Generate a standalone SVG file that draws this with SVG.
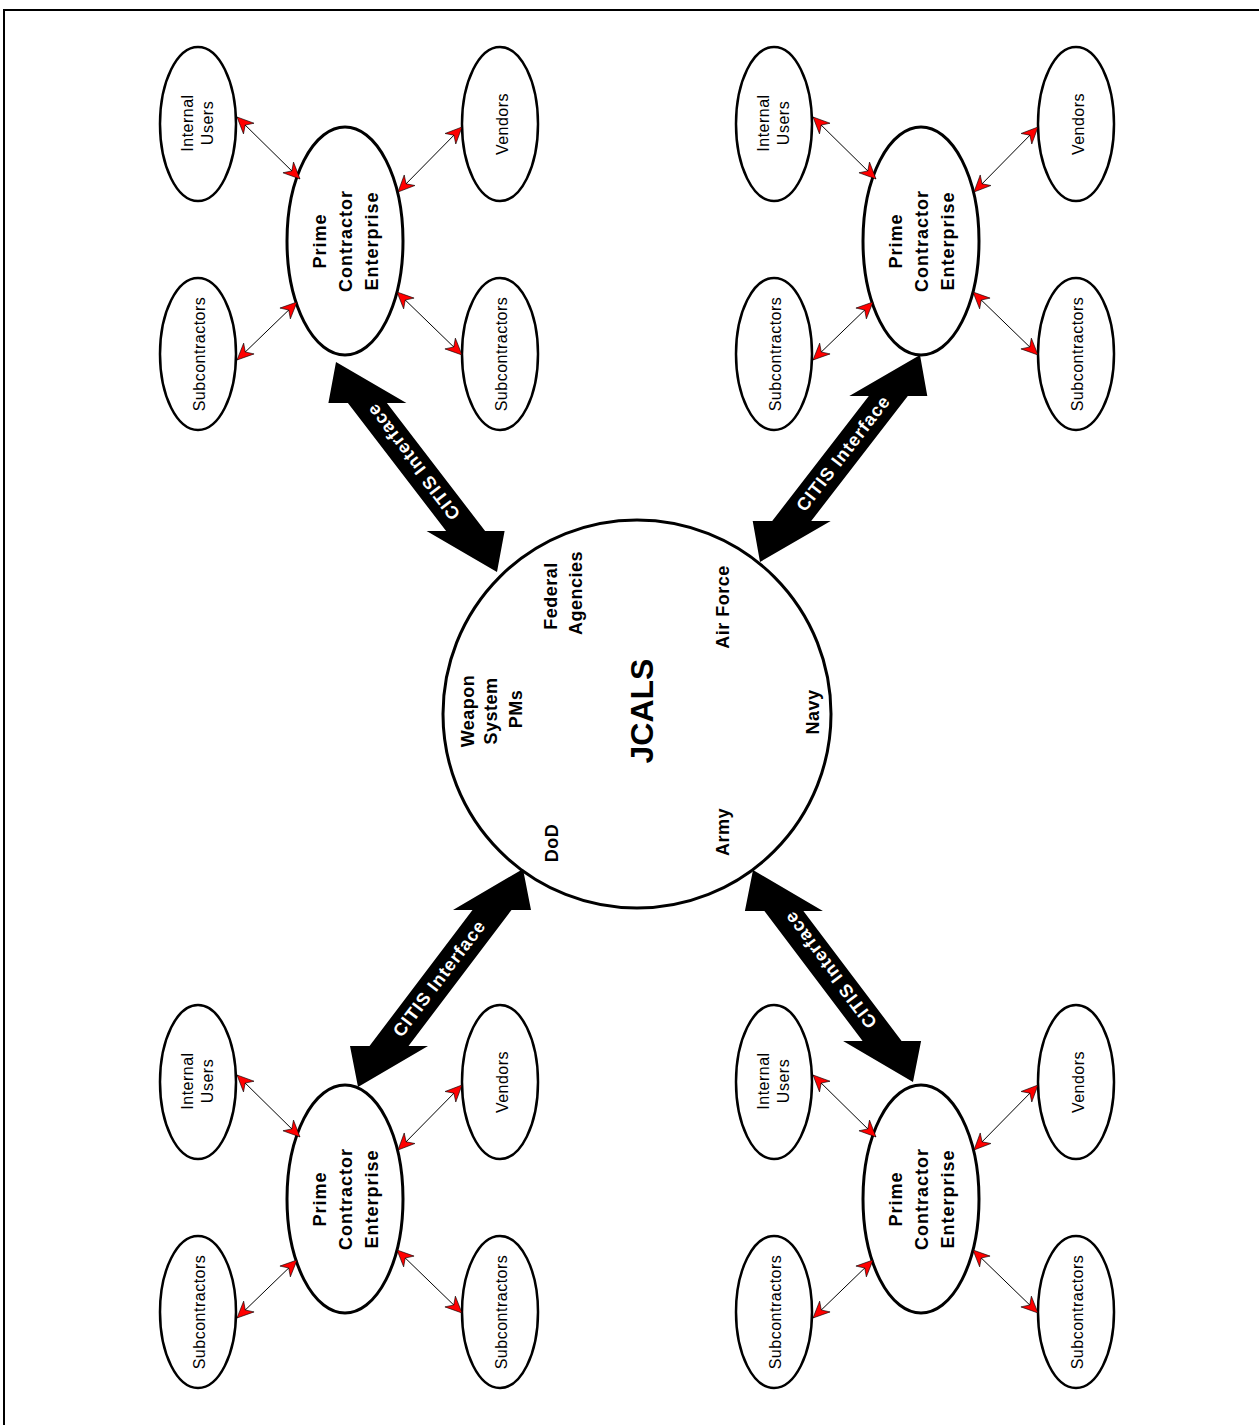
<svg xmlns="http://www.w3.org/2000/svg" width="1259" height="1425" viewBox="0 0 1259 1425">
  <style>
    .frame { fill: none; stroke: #000; stroke-width: 2; }
    .node ellipse, .node circle { fill: #fff; stroke: #000; }
    .small ellipse { stroke-width: 2.5; }
    .prime ellipse { stroke-width: 3; }
    .hub circle { stroke-width: 3; }
    text { font-family: "Liberation Sans", Arial, sans-serif; text-anchor: middle; fill: #000; }
    .lbl { font-size: 16px; letter-spacing: 0.5px; }
    .bold { font-size: 18px; font-weight: bold; letter-spacing: 1px; }
    .hubtxt { font-size: 18px; font-weight: bold; letter-spacing: 0.5px; }
    .title { font-size: 32px; font-weight: bold; }
    .link { stroke: #000; stroke-width: 1; fill: none; marker-start: url(#ah); marker-end: url(#ah); }
    .citis polygon { fill: #000; }
    .citis text { fill: #fff; font-size: 18px; font-weight: bold; letter-spacing: 1px; }
  </style>
  <defs>
    <marker id="ah" viewBox="-18 -9 19 18" refX="0" refY="0" markerWidth="19" markerHeight="18" markerUnits="userSpaceOnUse" orient="auto-start-reverse">
      <path d="M0,0 L-16.5,-7.5 L-11.5,0 L-16.5,7.5 Z" fill="#f00" stroke="#000" stroke-width="0.6"/>
    </marker>
  </defs>

  <rect width="1259" height="1425" fill="#fff"/>
  <path class="frame" d="M4,1425 V10 H1259"/>

  <!-- Central JCALS hub -->
  <g id="jcals" class="node hub">
    <circle cx="637" cy="714" r="194"/>
    <text class="title" transform="translate(653,711) rotate(-90)">JCALS</text>
    <text class="hubtxt" transform="translate(473.5,711) rotate(-90)">Weapon</text>
    <text class="hubtxt" transform="translate(497,711) rotate(-90)">System</text>
    <text class="hubtxt" transform="translate(521.5,709) rotate(-90)">PMs</text>
    <text class="hubtxt" transform="translate(556.5,596) rotate(-90)">Federal</text>
    <text class="hubtxt" transform="translate(582,593) rotate(-90)">Agencies</text>
    <text class="hubtxt" transform="translate(728.5,607) rotate(-90)">Air Force</text>
    <text class="hubtxt" transform="translate(557.5,843) rotate(-90)">DoD</text>
    <text class="hubtxt" transform="translate(728.5,832) rotate(-90)">Army</text>
    <text class="hubtxt" transform="translate(819,712) rotate(-90)">Navy</text>
  </g>

  <!-- Prime contractor clusters -->
  <g id="cluster-tl">
    <g id="tl-internal-users" class="node small">
      <ellipse cx="198" cy="124" rx="38" ry="77"/>
      <text class="lbl" transform="translate(192.5,123) rotate(-90)">Internal</text>
      <text class="lbl" transform="translate(213,123) rotate(-90)">Users</text>
    </g>
    <g id="tl-subcontractors-a" class="node small">
      <ellipse cx="198" cy="354" rx="38" ry="76"/>
      <text class="lbl" transform="translate(205,354) rotate(-90)">Subcontractors</text>
    </g>
    <g id="tl-prime" class="node prime">
      <ellipse cx="345" cy="241" rx="58" ry="114"/>
      <text class="bold" transform="translate(325.5,241) rotate(-90)">Prime</text>
      <text class="bold" transform="translate(351.5,241) rotate(-90)">Contractor</text>
      <text class="bold" transform="translate(377.5,241) rotate(-90)">Enterprise</text>
    </g>
    <g id="tl-vendors" class="node small">
      <ellipse cx="500" cy="124" rx="38" ry="77"/>
      <text class="lbl" transform="translate(507.5,124) rotate(-90)">Vendors</text>
    </g>
    <g id="tl-subcontractors-b" class="node small">
      <ellipse cx="500" cy="354" rx="38" ry="76"/>
      <text class="lbl" transform="translate(507,354) rotate(-90)">Subcontractors</text>
    </g>
  </g>

  <g id="cluster-tr" transform="translate(576,0)">
    <g id="tr-internal-users" class="node small">
      <ellipse cx="198" cy="124" rx="38" ry="77"/>
      <text class="lbl" transform="translate(192.5,123) rotate(-90)">Internal</text>
      <text class="lbl" transform="translate(213,123) rotate(-90)">Users</text>
    </g>
    <g id="tr-subcontractors-a" class="node small">
      <ellipse cx="198" cy="354" rx="38" ry="76"/>
      <text class="lbl" transform="translate(205,354) rotate(-90)">Subcontractors</text>
    </g>
    <g id="tr-prime" class="node prime">
      <ellipse cx="345" cy="241" rx="58" ry="114"/>
      <text class="bold" transform="translate(325.5,241) rotate(-90)">Prime</text>
      <text class="bold" transform="translate(351.5,241) rotate(-90)">Contractor</text>
      <text class="bold" transform="translate(377.5,241) rotate(-90)">Enterprise</text>
    </g>
    <g id="tr-vendors" class="node small">
      <ellipse cx="500" cy="124" rx="38" ry="77"/>
      <text class="lbl" transform="translate(507.5,124) rotate(-90)">Vendors</text>
    </g>
    <g id="tr-subcontractors-b" class="node small">
      <ellipse cx="500" cy="354" rx="38" ry="76"/>
      <text class="lbl" transform="translate(507,354) rotate(-90)">Subcontractors</text>
    </g>
  </g>

  <g id="cluster-bl" transform="translate(0,958)">
    <g id="bl-internal-users" class="node small">
      <ellipse cx="198" cy="124" rx="38" ry="77"/>
      <text class="lbl" transform="translate(192.5,123) rotate(-90)">Internal</text>
      <text class="lbl" transform="translate(213,123) rotate(-90)">Users</text>
    </g>
    <g id="bl-subcontractors-a" class="node small">
      <ellipse cx="198" cy="354" rx="38" ry="76"/>
      <text class="lbl" transform="translate(205,354) rotate(-90)">Subcontractors</text>
    </g>
    <g id="bl-prime" class="node prime">
      <ellipse cx="345" cy="241" rx="58" ry="114"/>
      <text class="bold" transform="translate(325.5,241) rotate(-90)">Prime</text>
      <text class="bold" transform="translate(351.5,241) rotate(-90)">Contractor</text>
      <text class="bold" transform="translate(377.5,241) rotate(-90)">Enterprise</text>
    </g>
    <g id="bl-vendors" class="node small">
      <ellipse cx="500" cy="124" rx="38" ry="77"/>
      <text class="lbl" transform="translate(507.5,124) rotate(-90)">Vendors</text>
    </g>
    <g id="bl-subcontractors-b" class="node small">
      <ellipse cx="500" cy="354" rx="38" ry="76"/>
      <text class="lbl" transform="translate(507,354) rotate(-90)">Subcontractors</text>
    </g>
  </g>

  <g id="cluster-br" transform="translate(576,958)">
    <g id="br-internal-users" class="node small">
      <ellipse cx="198" cy="124" rx="38" ry="77"/>
      <text class="lbl" transform="translate(192.5,123) rotate(-90)">Internal</text>
      <text class="lbl" transform="translate(213,123) rotate(-90)">Users</text>
    </g>
    <g id="br-subcontractors-a" class="node small">
      <ellipse cx="198" cy="354" rx="38" ry="76"/>
      <text class="lbl" transform="translate(205,354) rotate(-90)">Subcontractors</text>
    </g>
    <g id="br-prime" class="node prime">
      <ellipse cx="345" cy="241" rx="58" ry="114"/>
      <text class="bold" transform="translate(325.5,241) rotate(-90)">Prime</text>
      <text class="bold" transform="translate(351.5,241) rotate(-90)">Contractor</text>
      <text class="bold" transform="translate(377.5,241) rotate(-90)">Enterprise</text>
    </g>
    <g id="br-vendors" class="node small">
      <ellipse cx="500" cy="124" rx="38" ry="77"/>
      <text class="lbl" transform="translate(507.5,124) rotate(-90)">Vendors</text>
    </g>
    <g id="br-subcontractors-b" class="node small">
      <ellipse cx="500" cy="354" rx="38" ry="76"/>
      <text class="lbl" transform="translate(507,354) rotate(-90)">Subcontractors</text>
    </g>
  </g>

  <!-- Connectors: thin two-way links inside each cluster, thick CITIS links to the hub -->
  <g id="connectors">
    <g id="links-tl">
      <line class="link" x1="237" y1="117" x2="300" y2="179"/>
      <line class="link" x1="462" y1="127" x2="398" y2="192"/>
      <line class="link" x1="237" y1="360" x2="297" y2="302"/>
      <line class="link" x1="462" y1="355" x2="397" y2="292"/>
    </g>
    <g id="links-tr" transform="translate(576,0)">
      <line class="link" x1="237" y1="117" x2="300" y2="179"/>
      <line class="link" x1="462" y1="127" x2="398" y2="192"/>
      <line class="link" x1="237" y1="360" x2="297" y2="302"/>
      <line class="link" x1="462" y1="355" x2="397" y2="292"/>
    </g>
    <g id="links-bl" transform="translate(0,958)">
      <line class="link" x1="237" y1="117" x2="300" y2="179"/>
      <line class="link" x1="462" y1="127" x2="398" y2="192"/>
      <line class="link" x1="237" y1="360" x2="297" y2="302"/>
      <line class="link" x1="462" y1="355" x2="397" y2="292"/>
    </g>
    <g id="links-br" transform="translate(576,958)">
      <line class="link" x1="237" y1="117" x2="300" y2="179"/>
      <line class="link" x1="462" y1="127" x2="398" y2="192"/>
      <line class="link" x1="237" y1="360" x2="297" y2="302"/>
      <line class="link" x1="462" y1="355" x2="397" y2="292"/>
    </g>

    <g id="citis-tl" class="citis">
      <polygon points="336,362 406.4,403 386.9,403 485.1,531 504.6,531 497,572 426.6,531 446.1,531 347.9,403 328.4,403"/>
      <text transform="translate(413,462) rotate(-127.5)" dy="6.5">CITIS Interface</text>
    </g>
    <g id="citis-tr" class="citis">
      <polygon points="920,355 927.3,396 907.8,396 811.2,521 830.7,521 760,562 752.7,521 772.2,521 868.8,396 849.3,396"/>
      <text transform="translate(843,453) rotate(-52.3)" dy="6.5">CITIS Interface</text>
    </g>
    <g id="citis-bl" class="citis">
      <polygon points="523,869 531,910 511.5,910 408.5,1046 428,1046 358,1087 350,1046 369.5,1046 472.5,910 453,910"/>
      <text transform="translate(439,978) rotate(-52.9)" dy="6.5">CITIS Interface</text>
    </g>
    <g id="citis-br" class="citis">
      <polygon points="753,870 822.9,911 803.4,911 901.6,1041 921.1,1041 913,1082 843.1,1041 862.6,1041 764.4,911 744.9,911"/>
      <text transform="translate(830,970) rotate(-127)" dy="6.5">CITIS Interface</text>
    </g>
  </g>
</svg>
